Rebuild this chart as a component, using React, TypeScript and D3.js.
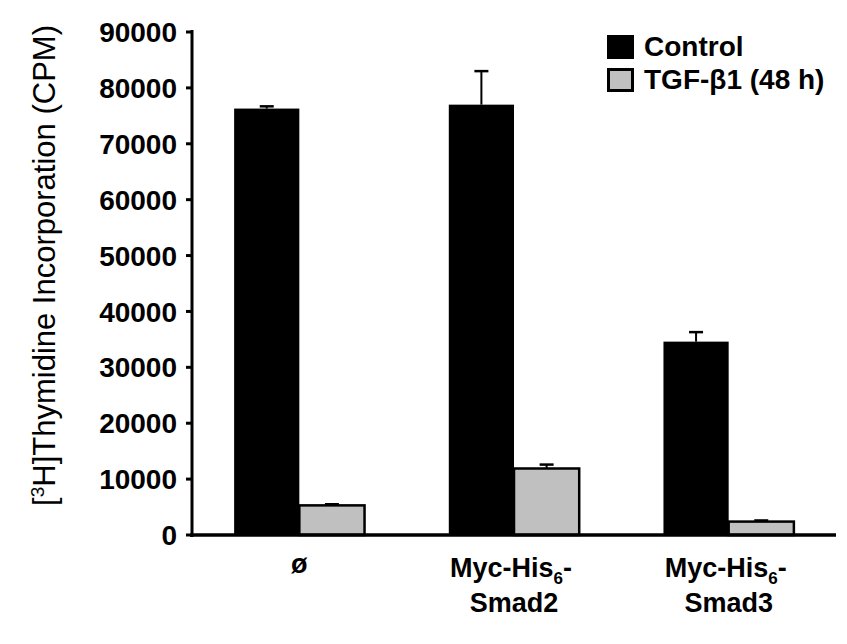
import * as d3 from 'd3';

const groups = ['empty', 'smad2', 'smad3'];
const series = ['Control', 'TGF-β1 (48 h)'];
const controlValues = [76300, 77000, 34600];
const controlErrors = [400, 6000, 1700];
const tgfValues = [5300, 11900, 2400];
const tgfErrors = [200, 700, 200];
const yTicks = [0, 10000, 20000, 30000, 40000, 50000, 60000, 70000, 80000, 90000];

const W = 847;
const H = 644;
const FONT = 'Liberation Sans, Arial, sans-serif';
const colors = ['#000000', '#c0c0c0'];

const App = () => {
  const x0 = d3.scaleBand().domain(groups).range([192, 836]);
  const x1 = d3.scaleBand().domain(series).range([0, x0.bandwidth()]).paddingOuter(0.646);
  const y = d3.scaleLinear().domain([0, 90000]).range([535, 32]);

  const rows = groups.map((g, i) => [
    { g, s: series[0], v: controlValues[i], e: controlErrors[i] },
    { g, s: series[1], v: tgfValues[i], e: tgfErrors[i] },
  ]);

  const labelY = 573;

  return (
    <svg width={W} height={H} style={{ position: 'absolute', left: 0, top: 0, background: '#fff' }}
      fontFamily={FONT}>
      {/* bars */}
      {rows.flat().map((d, i) => {
        const bx = x0(d.g) + x1(d.s);
        const cx = bx + x1.bandwidth() / 2;
        const isCtrl = d.s === series[0];
        return (
          <g key={i}>
            <rect x={bx} y={y(d.v)} width={x1.bandwidth()} height={y(0) - y(d.v)}
              fill={isCtrl ? colors[0] : colors[1]}
              stroke="#000" strokeWidth={isCtrl ? 0 : 2.5} />
            <line x1={cx} x2={cx} y1={y(d.v)} y2={y(d.v + d.e)} stroke="#000" strokeWidth={2} />
            <line x1={cx - 7} x2={cx + 7} y1={y(d.v + d.e)} y2={y(d.v + d.e)} stroke="#000" strokeWidth={2.5} />
          </g>
        );
      })}

      {/* y axis */}
      <line x1={192} x2={192} y1={y(90000) - 2} y2={y(0) + 2} stroke="#000" strokeWidth={3} />
      {yTicks.map((t) => (
        <g key={t}>
          <line x1={186} x2={192} y1={y(t)} y2={y(t)} stroke="#000" strokeWidth={3} />
          <text x={177} y={y(t)} dy="0.36em" textAnchor="end" fontSize={28} fontWeight="bold">
            {t}
          </text>
        </g>
      ))}
      {/* x axis */}
      <line x1={190} x2={836} y1={y(0)} y2={y(0)} stroke="#000" strokeWidth={3.5} />

      {/* y title */}
      <text transform={`translate(55, ${(y(90000) + y(0)) / 2 - 18}) rotate(-90)`} textAnchor="middle"
        fontSize={31}>
        [<tspan fontSize={19} dy={-11}>3</tspan><tspan dy={11}>H]Thymidine Incorporation (CPM)</tspan>
      </text>

      {/* x labels */}
      <text x={x0('empty') + x0.bandwidth() / 2} y={labelY} textAnchor="middle" fontSize={27} fontWeight="bold">ø</text>
      {['smad2', 'smad3'].map((g, i) => (
        <g key={g} fontSize={27} fontWeight="bold" textAnchor="middle">
          <text x={x0(g) + x0.bandwidth() / 2 - 3} y={labelY + 4}>
            Myc-His<tspan fontSize={17} dy={7}>6</tspan><tspan dy={-7}>-</tspan>
          </text>
          <text x={x0(g) + x0.bandwidth() / 2} y={labelY + 39}>{i === 0 ? 'Smad2' : 'Smad3'}</text>
        </g>
      ))}

      {/* legend */}
      {series.map((s, i) => (
        <g key={s} transform={`translate(607, ${35 + i * 33})`}>
          <rect x={i ? 1.5 : 0} y={i ? 1.5 : 0} width={i ? 24 : 27} height={i ? 21 : 24}
            fill={colors[i]} stroke="#000" strokeWidth={i ? 3 : 0} />
          <text x={37} y={21} fontSize={28} fontWeight="bold">{s}</text>
        </g>
      ))}
    </svg>
  );
};

export default App;
